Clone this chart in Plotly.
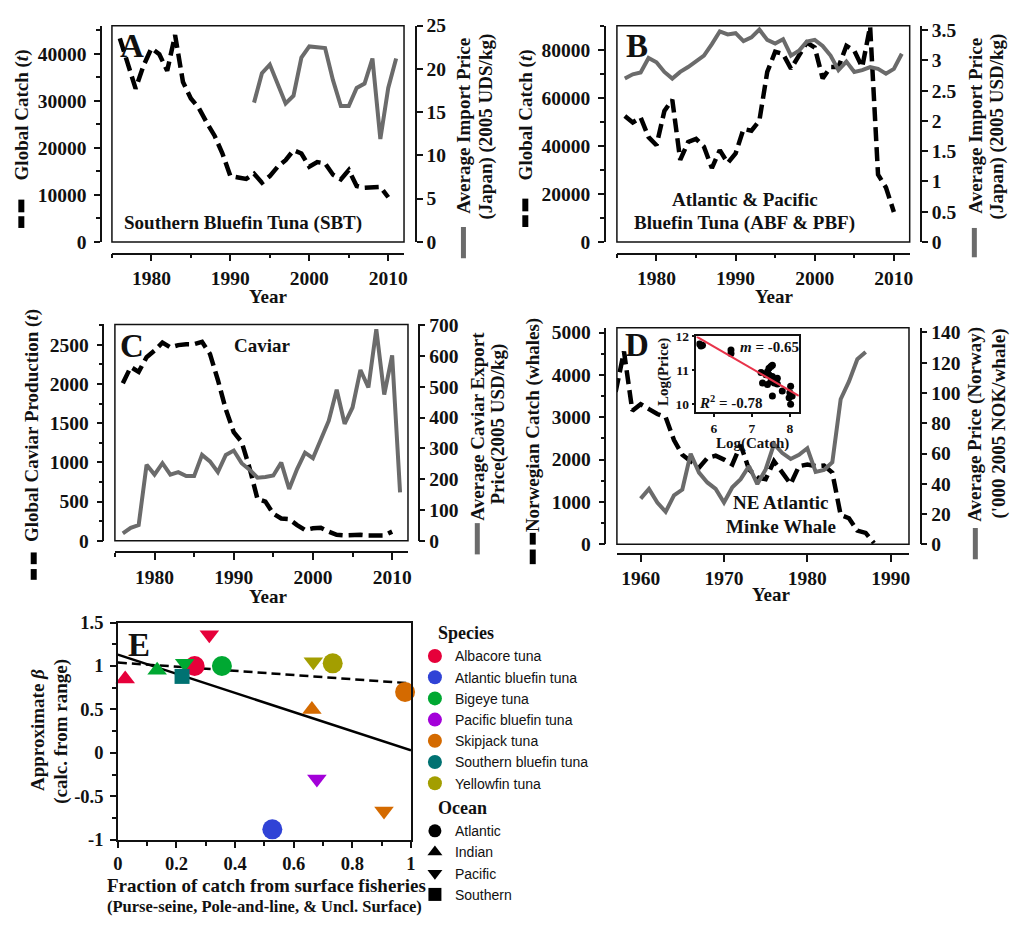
import plotly.graph_objects as go

W, H = 1014, 928


def px(x):
    return x / W


def py(y):
    return 1 - y / H


SERIF = "Liberation Serif"
SANS = "Liberation Sans"
INK = "#111111"
GRAY = "#6b6b6b"
DASH = "14px,6px"

# ---------------- A: Southern bluefin tuna ----------------
sbt_years = list(range(1976, 2011))
sbt_catch = [43300, 38000, 32600, 37500, 41200, 39900, 36400, 44000, 34000, 30500,
             28500, 25400, 22600, 18800, 14000, 13700, 13400, 14500, 12600, 14000,
             16000, 17400, 19500, 18800, 16000, 17000, 16700, 14300, 13300, 15300,
             11900, 11500, 11500, 11700, 9500]
sbt_price_years = list(range(1993, 2012))
sbt_price = [16.1, 19.5, 20.5, 18.1, 16.0, 16.9, 21.3, 22.6, 22.5, 22.4,
             18.7, 15.7, 15.7, 17.8, 18.3, 21.2, 11.9, 17.8, 21.2]

# ---------------- B: Atlantic & Pacific bluefin tuna ----------------
bft_years = list(range(1976, 2011))
bft_catch = [52500, 49800, 51900, 43700, 40300, 54600, 59300, 34200, 41700, 43000,
             39700, 30800, 38300, 32900, 36900, 47100, 46400, 50500, 70900, 79300,
             78400, 72200, 77700, 83100, 81100, 68200, 72900, 72900, 81800, 79700,
             72900, 89900, 28100, 22700, 12500]
bft_price_years = list(range(1976, 2012))
bft_price = [2.70, 2.77, 2.80, 3.04, 2.97, 2.81, 2.70, 2.81, 2.89, 2.98,
             3.08, 3.27, 3.48, 3.43, 3.45, 3.32, 3.38, 3.51, 3.34, 3.28,
             3.35, 3.08, 3.16, 3.31, 3.34, 3.24, 3.08, 2.84, 2.98, 2.81,
             2.84, 2.89, 2.86, 2.78, 2.86, 3.11]

# ---------------- C: Caviar ----------------
cav_years = list(range(1976, 2011))
cav_prod = [2010, 2217, 2155, 2342, 2425, 2529, 2467, 2496, 2508, 2508,
            2538, 2384, 2051, 1676, 1385, 1260, 928, 532, 499, 345,
            283, 275, 200, 137, 158, 166, 116, 75, 67, 75,
            75, 67, 67, 67, 116]
cav_price_years = list(range(1976, 2012))
cav_price = [24, 42, 51, 247, 215, 252, 215, 223, 210, 210,
             279, 258, 223, 279, 293, 252, 231, 205, 207, 212,
             254, 168, 233, 286, 268, 327, 390, 491, 380, 433,
             555, 498, 687, 475, 602, 157]

# ---------------- D: NE Atlantic minke whale ----------------
whale_years = list(range(1957, 1989))
whale_catch = [3600, 4550, 3154, 3308, 3192, 3077, 3000, 2461, 2115, 1961,
               1808, 2038, 2092, 2000, 1885, 2346, 1769, 1577, 1538, 1961,
               1692, 1423, 1846, 1885, 1846, 1861, 1692, 692, 615, 323,
               269, 30]
whale_price_years = list(range(1960, 1988))
whale_price = [30.2, 36.6, 27.6, 21.5, 32.3, 36.2, 59.9, 47.4, 40.9, 36.6,
               27.6, 37.7, 43.1, 51.7, 39.8, 49.5, 66.3, 60.3, 56.4, 59.2,
               63.5, 47.8, 49.1, 54.3, 95.9, 107.7, 122.3, 127.1]

# inset: log price vs log catch
log_catch = [5.62, 5.66, 5.70, 6.45, 6.45, 7.24, 7.28, 7.37, 7.41, 7.45,
             7.50, 7.54, 7.45, 7.54, 7.50, 7.59, 7.54, 7.67, 7.67, 7.80,
             8.02, 8.00, 7.98, 8.02, 8.06, 7.41]
log_price = [11.78, 11.72, 11.74, 11.60, 11.50, 10.94, 10.63, 10.87, 10.96, 11.06,
             11.11, 11.15, 10.87, 10.82, 10.67, 10.63, 10.24, 10.77, 10.60, 10.39,
             10.53, 10.34, 10.19, 10.00, 10.24, 10.58]
inset_slope = -0.65
inset_intercept = 15.6
inset_r2 = -0.78
inset_xrange = [5.54, 8.235]

# ---------------- E: tuna beta vs surface fraction ----------------
species_names = ["Albacore tuna", "Atlantic bluefin tuna", "Bigeye tuna",
                 "Pacific bluefin tuna", "Skipjack tuna", "Southern bluefin tuna",
                 "Yellowfin tuna"]
species_colors = ["#E6003A", "#3043D6", "#00A832", "#A300D9", "#D46A00",
                  "#007272", "#A39E00"]
ocean_names = ["Atlantic", "Indian", "Pacific", "Southern"]
ocean_symbols = ["circle", "triangle-up", "triangle-down", "square"]
ocean_sizes = [20, 17, 17, 15]

pt_species = ["Albacore tuna", "Albacore tuna", "Albacore tuna",
              "Atlantic bluefin tuna",
              "Bigeye tuna", "Bigeye tuna", "Bigeye tuna",
              "Pacific bluefin tuna",
              "Skipjack tuna", "Skipjack tuna", "Skipjack tuna",
              "Southern bluefin tuna",
              "Yellowfin tuna", "Yellowfin tuna"]
pt_ocean = ["Indian", "Pacific", "Atlantic",
            "Atlantic",
            "Indian", "Pacific", "Atlantic",
            "Pacific",
            "Indian", "Pacific", "Atlantic",
            "Southern",
            "Pacific", "Atlantic"]
pt_surface = [0.025, 0.312, 0.262, 0.527, 0.134, 0.228, 0.355, 0.679,
              0.662, 0.908, 0.980, 0.219, 0.667, 0.733]
pt_beta = [0.85, 1.36, 1.00, -0.88, 0.95, 1.03, 1.00, -0.30,
           0.50, -0.67, 0.70, 0.88, 1.05, 1.03]

fit_surface = [0.0, 1.0]
fit_all = [1.13, 0.03]
fit_dashed = [1.04, 0.80]

fig = go.Figure()


def lines(x, y, xa, ya, dashed):
    if dashed:
        ln = dict(color="black", width=4.5, dash=DASH)
    else:
        ln = dict(color=GRAY, width=4)
    fig.add_trace(go.Scatter(x=x, y=y, mode="lines", line=ln, xaxis=xa, yaxis=ya,
                             showlegend=False, hoverinfo="skip"))


lines(sbt_price_years, sbt_price, "x", "y2", False)
lines(sbt_years, sbt_catch, "x", "y", True)
lines(bft_price_years, bft_price, "x2", "y4", False)
lines(bft_years, bft_catch, "x2", "y3", True)
lines(cav_price_years, cav_price, "x3", "y6", False)
lines(cav_years, cav_prod, "x3", "y5", True)
lines(whale_price_years, whale_price, "x4", "y8", False)
lines(whale_years, whale_catch, "x4", "y7", True)

# inset scatter and regression
fig.add_trace(go.Scatter(x=log_catch, y=log_price, mode="markers",
                         marker=dict(color="black", size=7, opacity=1), xaxis="x5", yaxis="y9",
                         showlegend=False, hoverinfo="skip"))
fig.add_trace(go.Scatter(x=inset_xrange,
                         y=[inset_intercept + inset_slope * v for v in inset_xrange],
                         mode="lines", line=dict(color="#E8334A", width=2),
                         xaxis="x5", yaxis="y9", showlegend=False, hoverinfo="skip"))

# panel E fits
fig.add_trace(go.Scatter(x=fit_surface, y=fit_dashed, mode="lines",
                         line=dict(color="black", width=2.5, dash="9px,5px"),
                         xaxis="x6", yaxis="y10", showlegend=False, hoverinfo="skip"))
fig.add_trace(go.Scatter(x=fit_surface, y=fit_all, mode="lines",
                         line=dict(color="black", width=2.5),
                         xaxis="x6", yaxis="y10", showlegend=False, hoverinfo="skip"))

for name, color in zip(species_names, species_colors):
    idx = [i for i, s in enumerate(pt_species) if s == name]
    syms = [ocean_symbols[ocean_names.index(pt_ocean[i])] for i in idx]
    sizes = [ocean_sizes[ocean_names.index(pt_ocean[i])] for i in idx]
    fig.add_trace(go.Scatter(x=[pt_surface[i] for i in idx], y=[pt_beta[i] for i in idx],
                             mode="markers",
                             marker=dict(color=color, symbol=syms, size=sizes, opacity=1,
                                         line=dict(width=0)),
                             xaxis="x6", yaxis="y10", showlegend=False,
                             cliponaxis=False, hoverinfo="skip"))

# legend entries
INDENT = "\u00a0" * 4
for k, (name, color) in enumerate(zip(species_names, species_colors)):
    fig.add_trace(go.Scatter(x=[None], y=[None], mode="markers", name=name,
                             marker=dict(color=color, symbol="circle", size=14, opacity=1),
                             legendgroup="species",
                             legendgrouptitle=dict(text=f"<b>{INDENT}Species</b>"),
                             xaxis="x6", yaxis="y10"))
for k, (name, sym) in enumerate(zip(ocean_names, ocean_symbols)):
    fig.add_trace(go.Scatter(x=[None], y=[None], mode="markers", name=name,
                             marker=dict(color="black", symbol=sym, size=13, opacity=1),
                             legendgroup="ocean",
                             legendgrouptitle=dict(text=f"<b>{INDENT}Ocean</b>"),
                             xaxis="x6", yaxis="y10"))

TICKFONT = dict(family=SERIF, size=19.5, color=INK, weight="bold")
ETICKFONT = dict(family=SERIF, size=18.5, color=INK, weight="bold")
INSETFONT = dict(family=SERIF, size=13.5, color=INK, weight="bold")


def ax(**kw):
    base = dict(showline=True, linecolor=INK, linewidth=1.5, ticks="outside",
                tickwidth=1.5, tickcolor=INK, ticklen=6, showgrid=False,
                zeroline=False, tickfont=TICKFONT, fixedrange=True)
    base.update(kw)
    return base


def minor(step, length=4):
    return dict(dtick=step, ticklen=length, ticks="outside", tickwidth=1.5, tickcolor=INK)


ydomA = [py(237.3), py(16)]
ydomC = [py(543), py(321.7)]
ydomD = [py(546.7), py(325)]

layout = dict(
    width=W, height=H, margin=dict(l=0, r=0, t=0, b=0),
    paper_bgcolor="white", plot_bgcolor="white",
    # A
    xaxis=ax(domain=[px(108), px(403)], anchor="free", position=py(249.3),
             range=[1975, 2012], tick0=1980, dtick=10, ticklen=7, minor=minor(5)),
    yaxis=ax(domain=ydomA, anchor="free", position=px(97), range=[0, 46000],
             dtick=10000, tickformat="d", minor=minor(5000), ticklabelstandoff=4),
    yaxis2=ax(overlaying="y", side="right", anchor="free", position=px(415),
              range=[0, 25], dtick=5),
    # B
    xaxis2=ax(domain=[px(618), px(913.7)], anchor="free", position=py(249.3),
              range=[1975, 2012], tick0=1980, dtick=10, ticklen=7, minor=minor(5)),
    yaxis3=ax(domain=ydomA, anchor="free", position=px(606), range=[0, 90200],
              dtick=20000, tickformat="d", minor=minor(10000), ticklabelstandoff=4),
    yaxis4=ax(overlaying="y3", side="right", anchor="free", position=px(925.3),
              range=[0, 3.575], dtick=0.5),
    # C
    xaxis3=ax(domain=[px(111), px(407)], anchor="free", position=py(555),
              range=[1975, 2012], tick0=1980, dtick=10, ticklen=7, minor=minor(5)),
    yaxis5=ax(domain=ydomC, anchor="free", position=px(99.3), range=[0, 2760],
              dtick=500, tickformat="d", minor=minor(250), ticklabelstandoff=4),
    yaxis6=ax(overlaying="y5", side="right", anchor="free", position=px(417.7),
              range=[0, 703], dtick=100),
    # D
    xaxis4=ax(domain=[px(618), px(913)], anchor="free", position=py(556.7),
              range=[1957.15, 1992.2], tick0=1960, dtick=10, ticklen=7),
    yaxis7=ax(domain=ydomD, anchor="free", position=px(606.3), range=[0, 5115],
              dtick=1000, tickformat="d", minor=minor(500), ticklabelstandoff=4),
    yaxis8=ax(overlaying="y7", side="right", anchor="free", position=px(924.7),
              range=[0, 143.2], dtick=20),
    # D inset
    xaxis5=ax(domain=[px(698.3), px(801.7)], anchor="y9", range=inset_xrange,
              tick0=6, dtick=1, ticklen=3, mirror=True, tickfont=INSETFONT),
    yaxis9=ax(domain=[py(411.7), py(334)], anchor="x5", range=[9.76, 12.0],
              dtick=1, ticklen=3, mirror=True, tickfont=INSETFONT),
    # E
    xaxis6=ax(domain=[px(114), px(410)], anchor="y10", range=[0, 1], dtick=0.2,
              mirror=True, minor=minor(0.1), tickfont=ETICKFONT),
    yaxis10=ax(domain=[py(849), py(626.7)], anchor="x6", range=[-1, 1.5],
               tickmode="array", tickvals=[-1, -0.5, 0, 0.5, 1, 1.5],
               ticktext=["-1", "-0.5", "0", "0.5", "1", "1.5"], mirror=True,
               ticklabelstandoff=3, tickfont=ETICKFONT,
               minor=dict(tickmode="linear", tick0=-1, dtick=0.25, ticklen=4,
                          ticks="outside", tickwidth=1.5, tickcolor=INK)),
    legend=dict(x=px(414), y=py(618), xanchor="left", yanchor="top",
                font=dict(family=SANS, size=14, color=INK),
                grouptitlefont=dict(family=SERIF, size=18, color=INK),
                tracegroupgap=0, bgcolor="rgba(0,0,0,0)", traceorder="grouped",
                itemsizing="trace"),
    showlegend=True,
)
fig.update_layout(**layout)

# frames around the time-series panels
for xa, ya in [("x", "y"), ("x2", "y3"), ("x3", "y5"), ("x4", "y7")]:
    fig.add_shape(type="rect", xref=f"{xa} domain", yref=f"{ya} domain",
                  x0=0, x1=1, y0=0, y1=1, line=dict(color=INK, width=1.5))

# axis-title line keys: dashed = catch, grey bar = price
for x, segs in [(16.5, [(194, 207), (211, 223)]), (525.5, [(193, 206), (210, 222)]),
                (29, [(555, 567), (572, 583)]), (533, [(535, 547), (552, 567)])]:
    for y0, y1 in segs:
        fig.add_shape(type="line", xref="paper", yref="paper", x0=px(x), x1=px(x),
                      y0=py(y0), y1=py(y1), line=dict(color="black", width=6))
for x, y0, y1 in [(463, 222, 254), (979, 223, 253), (477, 525, 557), (980, 530, 562)]:
    fig.add_shape(type="line", xref="paper", yref="paper", x0=px(x), x1=px(x),
                  y0=py(y0), y1=py(y1), line=dict(color=GRAY, width=5))


def note(text, x, y, size=19, angle=0, family=SERIF):
    fig.add_annotation(text=f"<b>{text}</b>", x=px(x), y=py(y), xref="paper", yref="paper",
                       showarrow=False, textangle=angle, xanchor="center", yanchor="middle",
                       font=dict(family=family, size=size, color=INK))


# panel letters
for letter, x, y in [("A", 128, 37), ("B", 638, 37), ("C", 128, 344), ("D", 638, 343),
                     ("E", 135, 650)]:
    note(letter, x, y, size=33)

# panel captions
note("Southern Bluefin Tuna (SBT)", 240, 218)
note("Atlantic &amp; Pacific", 747, 194)
note("Bluefin Tuna (ABF &amp; PBF)", 747, 218)
note("Caviar", 260, 343)
note("NE Atlantic", 784, 504)
note("Minke Whale", 784, 528)

# axis titles
for x, y in [(266, 293), (777, 293), (266, 600), (774, 598)]:
    note("Year", x, y)
note("Global Catch (<i>t</i>)", 17, 107, angle=-90)
note("Average Import Price", 463, 118, angle=-90)
note("(Japan) (2005 UDS/kg)", 486, 119, angle=-90)
note("Global Catch (<i>t</i>)", 526, 107, angle=-90)
note("Average Import Price", 980, 118, angle=-90)
note("(Japan) (2005 USD/kg)", 1002, 119, angle=-90)
note("Global Caviar Production (<i>t</i>)", 28, 425, angle=-90)
note("Average Caviar Export", 477, 426, angle=-90)
note("Price(2005 USD/kg)", 498, 424, angle=-90)
note("Norwegian Catch (whales)", 534, 425, angle=-90)
note("Average Price (Norway)", 980, 424, angle=-90)
note("('000 2005 NOK/whale)", 1004, 423, angle=-90)

# inset labels
note("Log(Price)", 665, 370, size=15, angle=-90)
note("Log(Catch)", 755, 444, size=15)
note(f"<i>m</i> = {inset_slope:.2f}", 772, 345, size=15)
note(f"<i>R</i><sup>2</sup> = {inset_r2:.2f}", 733, 401, size=15)

# panel E titles
note("Approximate <i>β</i>", 33, 737, angle=-90)
note("(calc. from range)", 57, 738, angle=-90)
note("Fraction of catch from surface fisheries", 264, 896)
note("(Purse-seine, Pole-and-line, &amp; Uncl. Surface)", 262, 917, size=16.5)

fig.write_html("out.html")
